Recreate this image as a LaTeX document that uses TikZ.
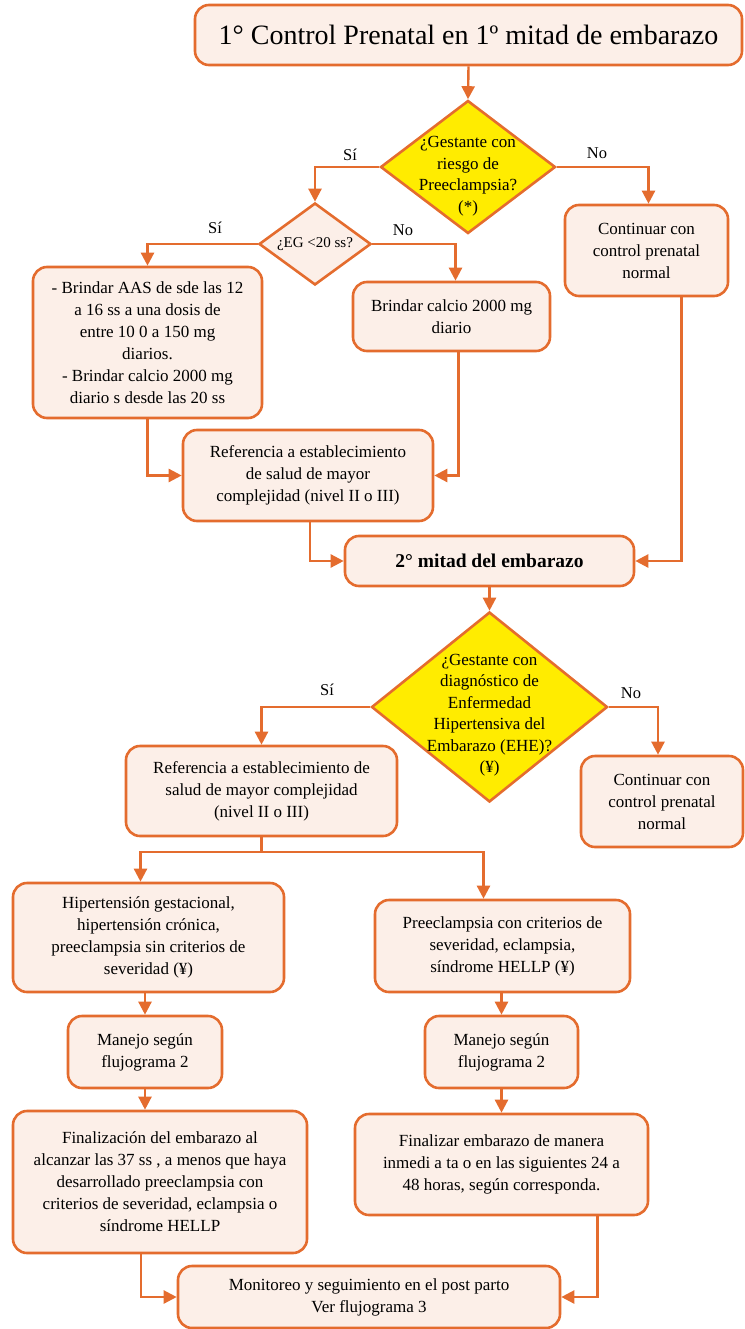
\documentclass[tikz,border=0pt]{standalone}
\usepackage{fontspec}
\setmainfont{Liberation Serif}
\usetikzlibrary{shapes.geometric,arrows.meta,calc}
\definecolor{orn}{HTML}{E46C2E}
\definecolor{pk}{HTML}{FCEFE8}
\definecolor{yl}{HTML}{FFEC00}
\begin{document}
\begin{tikzpicture}[x=1pt,y=-1pt,
 box/.style={draw=orn, fill=pk, line width=2.6pt, rounded corners=14pt, align=center, inner sep=0pt, font=\fontsize{17}{22}\selectfont},
 dec/.style={diamond, draw=orn, line width=2.6pt, inner sep=0pt},
 dtext/.style={align=center, font=\fontsize{17}{21.5}\selectfont},
 arr/.style={draw=orn, line width=2.4pt, -{Triangle[length=13pt,width=13pt]}},
 lin/.style={draw=orn, line width=2.4pt},
 lbl/.style={font=\fontsize{16.5}{19}\selectfont}]
\useasboundingbox (0,0) rectangle (744,1329);

\node[box, minimum width=547, minimum height=60, font=\fontsize{28}{32}\selectfont] (top) at (468.5,35) {1° Control Prenatal en 1º mitad de embarazo};

\node[dec, fill=yl, minimum width=175, minimum height=133,
  label={[dtext, yshift=-9pt]center:¿Gestante con\\riesgo de\\Preeclampsia?\\(*)}] (d1) at (468,167) {};

\node[dec, fill=pk, minimum width=112, minimum height=82,
  label={[dtext, font=\fontsize{15}{18}\selectfont]center:¿EG <20 ss?}] (d2) at (315,244) {};

\node[box, minimum width=163, minimum height=91] (cont1) at (646.5,250.5) {Continuar con\\control prenatal\\normal};

\node[box, minimum width=229, minimum height=151] (aas) at (147.5,342.5) {- Brindar AAS de sde las 12\\a 16 ss a una dosis de\\entre 10 0 a 150 mg\\diarios.\\- Brindar calcio 2000 mg\\diario s desde las 20 ss};

\node[box, minimum width=197, minimum height=69] (calc) at (451.5,316.5) {Brindar calcio 2000 mg\\diario};

\node[box, minimum width=250, minimum height=91] (ref1) at (308,475.5) {Referencia a establecimiento\\de salud de mayor\\complejidad (nivel II o III)};

\node[box, minimum width=289, minimum height=50, font=\bfseries\fontsize{19.5}{23}\selectfont] (mitad) at (489.5,561) {2° mitad del embarazo};

\node[dec, fill=yl, minimum width=236, minimum height=190,
  label={[dtext, yshift=-8pt]center:¿Gestante con\\diagnóstico de\\Enfermedad\\Hipertensiva del\\Embarazo (EHE)?\\(¥)}] (d3) at (489.5,707) {};

\node[box, minimum width=162, minimum height=91] (cont2) at (662,801.5) {Continuar con\\control prenatal\\normal};

\node[box, minimum width=271, minimum height=90] (ref2) at (261.5,791) {Referencia a establecimiento de\\salud de mayor complejidad\\(nivel II o III)};

\node[box, minimum width=271, minimum height=109] (hip) at (148.5,937.5) {Hipertensión gestacional,\\hipertensión crónica,\\preeclampsia sin criterios de\\severidad (¥)};

\node[box, minimum width=255, minimum height=92] (pre) at (502.5,946) {Preeclampsia con criterios de\\severidad, eclampsia,\\síndrome HELLP (¥)};

\node[box, minimum width=154, minimum height=72] (man1) at (145,1052) {Manejo según\\flujograma 2};
\node[box, minimum width=153, minimum height=72] (man2) at (501.5,1052) {Manejo según\\flujograma 2};

\node[box, minimum width=294, minimum height=142] (fin1) at (160,1182) {Finalización del embarazo al\\alcanzar las 37 ss , a menos que haya\\desarrollado preeclampsia con\\criterios de severidad, eclampsia o\\síndrome HELLP};

\node[box, minimum width=293, minimum height=101] (fin2) at (501.5,1164.5) {Finalizar embarazo de manera\\inmedi a ta o en las siguientes 24 a\\48 horas, según corresponda.};

\node[box, minimum width=382, minimum height=62] (mon) at (369,1297) {Monitoreo y seguimiento en el post parto\\Ver flujograma 3};

% connectors
\draw[arr] (top.south) -- (d1.north);
\draw[arr] (d1.west) -| (d2.north);
\draw[arr] (d1.east) -| ([xshift=2]cont1.north);
\node[lbl] (si1) at (350,155) {Sí};
\node[lbl] (no1) at (597,153) {No};

\draw[arr] (d2.west) -| (aas.north);
\draw[arr] (d2.east) -| ([xshift=4]calc.north);
\node[lbl] (si2) at (215,228) {Sí};
\node[lbl] (no2) at (403,230) {No};

\draw[arr] (aas.south) |- (ref1.west);
\draw[arr] ([xshift=7]calc.south) |- (ref1.east);
\draw[arr] ([xshift=2]ref1.south) |- (mitad.west);
\draw[arr] ([xshift=35]cont1.south) |- (mitad.east);

\draw[arr] (mitad.south) -- (d3.north);
\draw[arr] (d3.west) -| (ref2.north);
\draw[arr] (d3.east) -| ([xshift=-4]cont2.north);
\node[lbl] (si3) at (327,690) {Sí};
\node[lbl] (no3) at (631,693) {No};

\coordinate (split) at (261.5,852);
\draw[lin] (ref2.south) -- (split);
\draw[arr] (split) -| ([xshift=-8]hip.north);
\draw[arr] (split) -| ([xshift=-19]pre.north);

\draw[arr] (hip.south -| man1.north) -- (man1.north);
\draw[arr] (pre.south -| man2.north) -- (man2.north);
\draw[arr] (man1.south) -- (man1.south |- fin1.north);
\draw[arr] (man2.south) -- (man2.south |- fin2.north);

\draw[arr] ([xshift=-19]fin1.south) |- (mon.west);
\draw[arr] ([xshift=96]fin2.south) |- (mon.east);
\end{tikzpicture}
\end{document}
